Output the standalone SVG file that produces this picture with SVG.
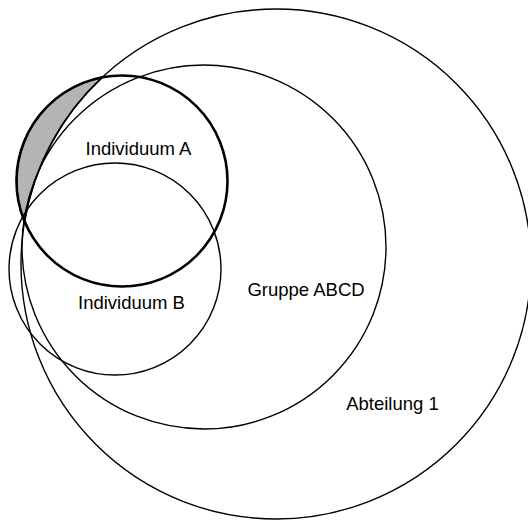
<svg xmlns="http://www.w3.org/2000/svg" width="528" height="521" viewBox="0 0 528 521">
  <style>
    .set { fill: none; stroke: #000; stroke-width: 1.4; }
    .set-bold { fill: none; stroke: #000; stroke-width: 2.6; }
    .lbl { font-family: "Liberation Sans", Arial, sans-serif; font-size: 18.5px; fill: #000; text-anchor: middle; }
    .only-a { fill: #b4b4b4; stroke: #000; stroke-width: 1.6; stroke-linejoin: round; }
  </style>
  <rect width="528" height="521" fill="#fff"/>

  <!-- part of Individuum A lying outside Abteilung 1 -->
  <path id="a-outside" class="only-a" d="M102.2,77.4 A105.5,105.5 0 0 0 24.55,221.4 A255,255 0 0 1 102.2,77.4 Z"/>

  <g id="abteilung-1">
    <circle class="set" cx="276" cy="264" r="255"/>
    <text class="lbl" x="392.5" y="410">Abteilung 1</text>
  </g>

  <g id="gruppe-abcd">
    <circle class="set" cx="204" cy="247" r="182"/>
    <text class="lbl" x="306" y="296">Gruppe ABCD</text>
  </g>

  <g id="individuum-b">
    <circle class="set" cx="115" cy="269" r="106"/>
    <text class="lbl" x="131.5" y="309">Individuum B</text>
  </g>

  <g id="individuum-a">
    <circle class="set-bold" cx="122" cy="181" r="105.5"/>
    <text class="lbl" x="138.5" y="155">Individuum A</text>
  </g>

  <g id="connectors"></g>
</svg>
